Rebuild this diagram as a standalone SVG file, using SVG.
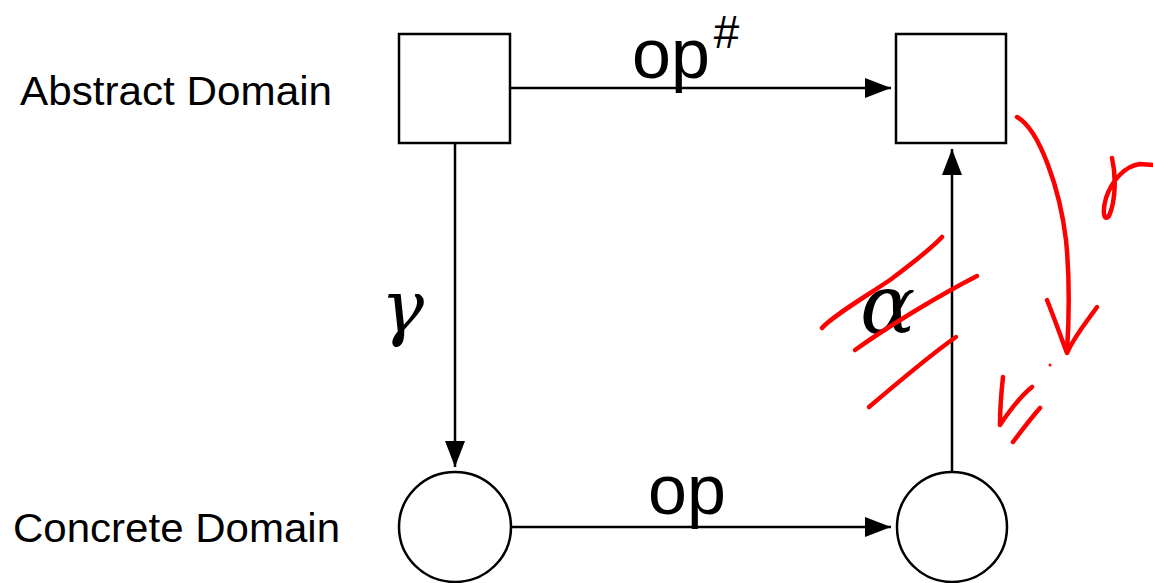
<svg xmlns="http://www.w3.org/2000/svg" width="1153" height="583" viewBox="0 0 1153 583">
<style>
.node{fill:#fff;stroke:#000;stroke-width:2.5}
.edge{fill:none;stroke:#000;stroke-width:2.5}
.lbl{font-family:"Liberation Sans",Arial,sans-serif;fill:#000}
.math{font-family:"DejaVu Serif","Liberation Serif",serif;font-style:italic;fill:#000}
.ink{fill:none;stroke:#f00;stroke-width:4.5;stroke-linecap:round;stroke-linejoin:round}
</style>
<defs>
<marker id="ah" markerWidth="26" markerHeight="20" refX="26" refY="10" orient="auto" markerUnits="userSpaceOnUse">
<path d="M0,0 L26,10 L0,20 Z" fill="#000"/>
</marker>
</defs>
<rect width="1153" height="583" fill="#fff"/>
<text class="lbl" x="20" y="105" font-size="41" textLength="312" lengthAdjust="spacingAndGlyphs">Abstract Domain</text>
<text class="lbl" x="13" y="542" font-size="41" textLength="327" lengthAdjust="spacingAndGlyphs">Concrete Domain</text>
<g id="a1"><rect class="node" x="399" y="34" width="111" height="109"/></g>
<g id="a2"><rect class="node" x="896" y="34" width="110" height="109"/></g>
<g id="c1"><ellipse class="node" cx="455" cy="527" rx="56" ry="55"/></g>
<g id="c2"><ellipse class="node" cx="952" cy="527" rx="55" ry="55"/></g>
<g id="edges">
<line class="edge" x1="510" y1="88" x2="891" y2="88" marker-end="url(#ah)"/>
<line class="edge" x1="511" y1="527" x2="891" y2="527" marker-end="url(#ah)"/>
<line class="edge" x1="455" y1="143" x2="455" y2="467" marker-end="url(#ah)"/>
<line class="edge" x1="952" y1="472" x2="952" y2="149" marker-end="url(#ah)"/>
<text class="lbl" x="632" y="78" font-size="70">op</text>
<text class="lbl" x="713" y="48" font-size="46" font-style="italic">#</text>
<text class="lbl" x="648" y="514" font-size="70">op</text>
<text class="math" x="381" y="332" font-size="72">γ</text>
<text class="math" x="860" y="333" font-size="82">α</text>
</g>
<g id="redink">
<path class="ink" d="M1017,117 C1040,130 1060,190 1066,240 C1070,280 1069,320 1067,352"/>
<path class="ink" d="M1047,300 C1055,320 1062,340 1067,353 C1075,335 1088,320 1097,307"/>
<path class="ink" d="M1112,158 C1116,175 1116,200 1109,216 C1104,222 1102,212 1106,198 C1112,180 1125,166 1140,164 L1153,165"/>
<path class="ink" d="M822,328 C830,318 860,300 890,280 C910,265 930,250 942,237"/>
<path class="ink" d="M855,350 C890,325 940,295 977,276"/>
<path class="ink" d="M869,407 C895,385 930,355 956,337"/>
<path class="ink" d="M1003,377 C1001,395 1000,410 1000,425 C1010,410 1022,395 1032,387"/>
<path class="ink" d="M1013,442 C1022,430 1032,417 1040,408"/>
<circle cx="1050" cy="365" r="1.5" fill="#f00"/>
</g>
</svg>
